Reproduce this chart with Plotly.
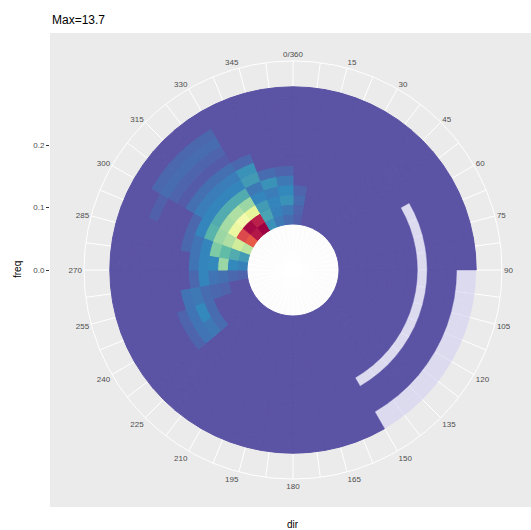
import plotly.graph_objects as go

# Direction bins (start of each 10-degree sector)
dir_start = [0, 10, 20, 30, 40, 50, 60, 70, 80, 90, 100, 110, 120, 130, 140, 150, 160, 170,
             180, 190, 200, 210, 220, 230, 240, 250, 260, 270, 280, 290, 300, 310, 320, 330, 340, 350]

# Radial bin edges on the freq scale (inner hole up to the first edge)
ring_edges = [0.0736, 0.0893, 0.1050, 0.1206, 0.1363, 0.1520, 0.1677, 0.1834,
              0.1990, 0.2147, 0.2304, 0.2461, 0.2618, 0.2774, 0.2931]

# Values per ring, innermost first; None = no data
ring01 = [0.4, 0.1, 0.1, 0.1, 0.1, 0.1, 0.1, 0.1, 0.1, 0.1, 0.1, 0.1, 0.1, 0.1, 0.1, 0.1, 0.1, 0.1,
          0.1, 0.1, 0.1, 0.1, 0.1, 0.1, 0.1, 0.1, 0.5, 1.2, 1.8, 4.5, 11.5, 13.2, 13.7, 1.6, 1.0, 0.7]
ring02 = [0.5, 0.1, 0.1, 0.1, 0.1, 0.1, 0.1, 0.1, 0.1, 0.1, 0.1, 0.1, 0.1, 0.1, 0.1, 0.1, 0.1, 0.1,
          0.1, 0.1, 0.1, 0.1, 0.1, 0.1, 0.1, 0.1, 0.6, 1.4, 2.2, 5.0, 12.0, 13.5, 13.0, 2.0, 1.2, 1.0]
ring03 = [0.7, 0.1, 0.1, 0.1, 0.1, 0.1, 0.1, 0.1, 0.1, 0.1, 0.1, 0.1, 0.1, 0.1, 0.1, 0.1, 0.1, 0.1,
          0.1, 0.1, 0.1, 0.1, 0.1, 0.1, 0.1, 0.5, 0.8, 3.8, 2.6, 4.2, 5.8, 6.2, 5.6, 1.8, 1.3, 1.6]
ring04 = [0.5, 0.1, 0.1, 0.1, 0.1, 0.1, 0.1, 0.1, 0.1, 0.1, 0.1, 0.1, 0.1, 0.1, 0.1, 0.1, 0.1, 0.1,
          0.1, 0.1, 0.1, 0.1, 0.1, 0.1, 0.1, 0.6, 0.9, 1.4, 3.2, 3.8, 4.0, 4.2, 3.8, 1.3, 1.1, 1.4]
ring05 = [0.1, 0.1, 0.1, 0.1, 0.1, 0.1, 0.1, 0.1, 0.1, 0.1, 0.1, 0.1, 0.1, 0.1, 0.1, 0.1, 0.1, 0.1,
          0.1, 0.1, 0.1, 0.1, 0.1, 0.7, 0.7, 0.7, 1.3, 1.3, 1.3, 2.4, 2.2, 2.2, 2.2, 1.0, 1.6, 1.0]
ring06 = [0.1, 0.1, 0.1, 0.1, 0.1, 0.1, 0.1, 0.1, 0.1, 0.1, 0.1, 0.1, 0.1, 0.1, 0.1, 0.1, 0.1, 0.1,
          0.1, 0.1, 0.1, 0.1, 0.1, 1.0, 1.4, 1.0, 0.6, 0.9, 0.9, 1.3, 1.3, 1.3, 1.3, 1.8, 0.7, 0.5]
ring07 = [0.1, 0.1, 0.1, 0.1, 0.1, 0.1, 0.1, 0.1, 0.1, 0.1, 0.1, 0.1, 0.1, 0.1, 0.1, 0.1, 0.1, 0.1,
          0.1, 0.1, 0.1, 0.1, 0.1, 0.9, 0.9, 0.9, 0.1, 0.1, 0.6, 0.6, 1.1, 1.1, 1.1, 1.6, 0.1, 0.1]
ring08 = [0.1, 0.1, 0.1, 0.1, 0.1, 0.1, 0.1, 0.1, 0.1, 0.1, 0.1, 0.1, 0.1, 0.1, 0.1, 0.1, 0.1, 0.1,
          0.1, 0.1, 0.1, 0.1, 0.1, 0.5, 0.5, 0.1, 0.1, 0.1, 0.1, 0.1, 0.8, 0.8, 0.8, 0.6, 0.1, 0.1]
ring09 = [0.1, 0.1, 0.1, 0.1, 0.1, 0.1, None, None, None, None, None, None, None, None, None, 0.1, 0.1, 0.1,
          0.1, 0.1, 0.1, 0.1, 0.1, 0.1, 0.1, 0.1, 0.1, 0.1, 0.1, 0.1, 0.3, 0.3, 0.3, 0.1, 0.1, 0.1]
ring10 = [0.1, 0.1, 0.1, 0.1, 0.1, 0.1, 0.1, 0.1, 0.1, 0.1, 0.1, 0.1, 0.1, 0.1, 0.1, 0.1, 0.1, 0.1,
          0.1, 0.1, 0.1, 0.1, 0.1, 0.1, 0.1, 0.1, 0.1, 0.1, 0.1, 0.1, 0.5, 0.5, 0.5, 0.1, 0.1, 0.1]
ring11 = [0.1, 0.1, 0.1, 0.1, 0.1, 0.1, 0.1, 0.1, 0.1, 0.1, 0.1, 0.1, 0.1, 0.1, 0.1, 0.1, 0.1, 0.1,
          0.1, 0.1, 0.1, 0.1, 0.1, 0.1, 0.1, 0.1, 0.1, 0.1, 0.1, 0.4, 0.7, 0.7, 0.7, 0.1, 0.1, 0.1]
ring12 = [0.1, 0.1, 0.1, 0.1, 0.1, 0.1, 0.1, 0.1, 0.1, 0.1, 0.1, 0.1, 0.1, 0.1, 0.1, 0.1, 0.1, 0.1,
          0.1, 0.1, 0.1, 0.1, 0.1, 0.1, 0.1, 0.1, 0.1, 0.1, 0.1, 0.1, 0.6, 0.6, 0.6, 0.1, 0.1, 0.1]
ring13 = [0.1, 0.1, 0.1, 0.1, 0.1, 0.1, 0.1, 0.1, 0.1, None, None, None, None, None, None, 0.1, 0.1, 0.1,
          0.1, 0.1, 0.1, 0.1, 0.1, 0.1, 0.1, 0.1, 0.1, 0.1, 0.1, 0.1, 0.1, 0.1, 0.1, 0.1, 0.1, 0.1]
ring14 = [0.1, 0.1, 0.1, 0.1, 0.1, 0.1, 0.1, 0.1, 0.1, None, None, None, None, None, None, 0.1, 0.1, 0.1,
          0.1, 0.1, 0.1, 0.1, 0.1, 0.1, 0.1, 0.1, 0.1, 0.1, 0.1, 0.1, 0.1, 0.1, 0.1, 0.1, 0.1, 0.1]
rings = [ring01, ring02, ring03, ring04, ring05, ring06, ring07,
         ring08, ring09, ring10, ring11, ring12, ring13, ring14]

max_value = 13.7
dir_ticks = [0, 15, 30, 45, 60, 75, 90, 105, 120, 135, 150, 165, 180,
             195, 210, 225, 240, 255, 270, 285, 300, 315, 330, 345]
freq_ticks = [0.0, 0.1, 0.2]

spectral_r = [[0.0, "#5E4FA2"], [0.1, "#3288BD"], [0.2, "#66C2A5"], [0.3, "#ABDDA4"],
              [0.4, "#E6F598"], [0.5, "#FFFFBF"], [0.6, "#FEE08B"], [0.7, "#FDAE61"],
              [0.8, "#F46D43"], [0.9, "#D53E4F"], [1.0, "#9E0142"]]

# Flatten the grid into tiles
th, base, height, val = [], [], [], []
na_th, na_base, na_height = [], [], []
for k, row in enumerate(rings):
    for d, v in zip(dir_start, row):
        if v is None:
            na_th.append(d + 5)
            na_base.append(ring_edges[k])
            na_height.append(ring_edges[k + 1] - ring_edges[k])
        else:
            th.append(d + 5)
            base.append(ring_edges[k])
            height.append(ring_edges[k + 1] - ring_edges[k])
            val.append(v)

# Page geometry (pixels)
W, H = 531, 530
cx, cy = 293, 270
R_px = 209.0
px_per_unit = 625.0
panel_l, panel_t, panel_b = 50, 33, 507

fig = go.Figure()

# Cartesian layer: grey panel, freq axis on the left
fig.add_trace(go.Scatter(x=[0.5], y=[0], mode="markers", marker=dict(opacity=0),
                         hoverinfo="skip", showlegend=False))

# Centre hole
fig.add_trace(go.Barpolar(theta=[90, 270], r=[ring_edges[0], ring_edges[0]], base=[0, 0],
                          width=[180, 180], marker=dict(color="rgba(255,255,255,0.86)",
                                                        line=dict(width=0)),
                          hoverinfo="skip", showlegend=False))

# Tiles with values
fig.add_trace(go.Barpolar(
    theta=th, r=height, base=base, width=[10] * len(th),
    marker=dict(color=val, colorscale=spectral_r, cmin=0, cmax=max_value,
                line=dict(color=val, colorscale=spectral_r, cmin=0, cmax=max_value, width=1.0)),
    showlegend=False))

# Empty tiles
fig.add_trace(go.Barpolar(
    theta=na_th, r=na_height, base=na_base, width=[10] * len(na_th),
    marker=dict(color="rgba(212,209,240,0.62)", line=dict(width=0)),
    hoverinfo="skip", showlegend=False))

tick_vals = [t / 2 for t in range(0, 720, 15)]
tick_text = []
for t in tick_vals:
    if t in dir_ticks:
        tick_text.append("0/360" if t == 0 else str(int(t)))
    else:
        tick_text.append("")

fig.update_layout(
    width=W, height=H,
    margin=dict(l=0, r=0, t=0, b=0),
    paper_bgcolor="white",
    plot_bgcolor="#EBEBEB",
    font=dict(family="Liberation Sans, Arial, sans-serif"),
    barmode="overlay",
    xaxis=dict(domain=[panel_l / W, 1.0], range=[0, 1], showticklabels=False, ticks="",
               showgrid=False, zeroline=False, showline=False, fixedrange=True),
    yaxis=dict(domain=[1 - panel_b / H, 1 - panel_t / H],
               range=[-(panel_b - cy) / px_per_unit, (cy - panel_t) / px_per_unit],
               tickvals=freq_ticks, ticktext=["0.0", "0.1", "0.2"],
               ticks="outside", ticklen=3, tickwidth=1, tickcolor="#333333",
               tickfont=dict(size=8, color="#4D4D4D"),
               showgrid=False, zeroline=False, showline=False, fixedrange=True),
    polar=dict(
        domain=dict(x=[(cx - R_px) / W, (cx + R_px) / W],
                    y=[1 - (cy + R_px) / H, 1 - (cy - R_px) / H]),
        bgcolor="rgba(0,0,0,0)",
        hole=0,
        radialaxis=dict(range=[0, R_px / px_per_unit], visible=True, showgrid=False,
                        showticklabels=False, ticks="", showline=False),
        angularaxis=dict(rotation=90, direction="clockwise", tickmode="array",
                         tickvals=tick_vals, ticktext=tick_text, ticks="",
                         showgrid=True, gridcolor="white", gridwidth=0.8,
                         showline=True, linecolor="white", linewidth=1,
                         layer="below traces",
                         tickfont=dict(size=8, color="#4D4D4D")),
    ),
    annotations=[
        dict(text="Max=13.7", x=panel_l / W, y=1 - 20 / H, xref="paper", yref="paper",
             xanchor="left", yanchor="middle", showarrow=False,
             font=dict(size=12, color="black")),
        dict(text="dir", x=cx / W, y=1 - 524 / H, xref="paper", yref="paper",
             xanchor="center", yanchor="middle", showarrow=False,
             font=dict(size=10, color="black")),
        dict(text="freq", x=17 / W, y=1 - cy / H, xref="paper", yref="paper",
             xanchor="center", yanchor="middle", showarrow=False, textangle=-90,
             font=dict(size=10, color="black")),
    ],
)

fig.write_html("out.html")
